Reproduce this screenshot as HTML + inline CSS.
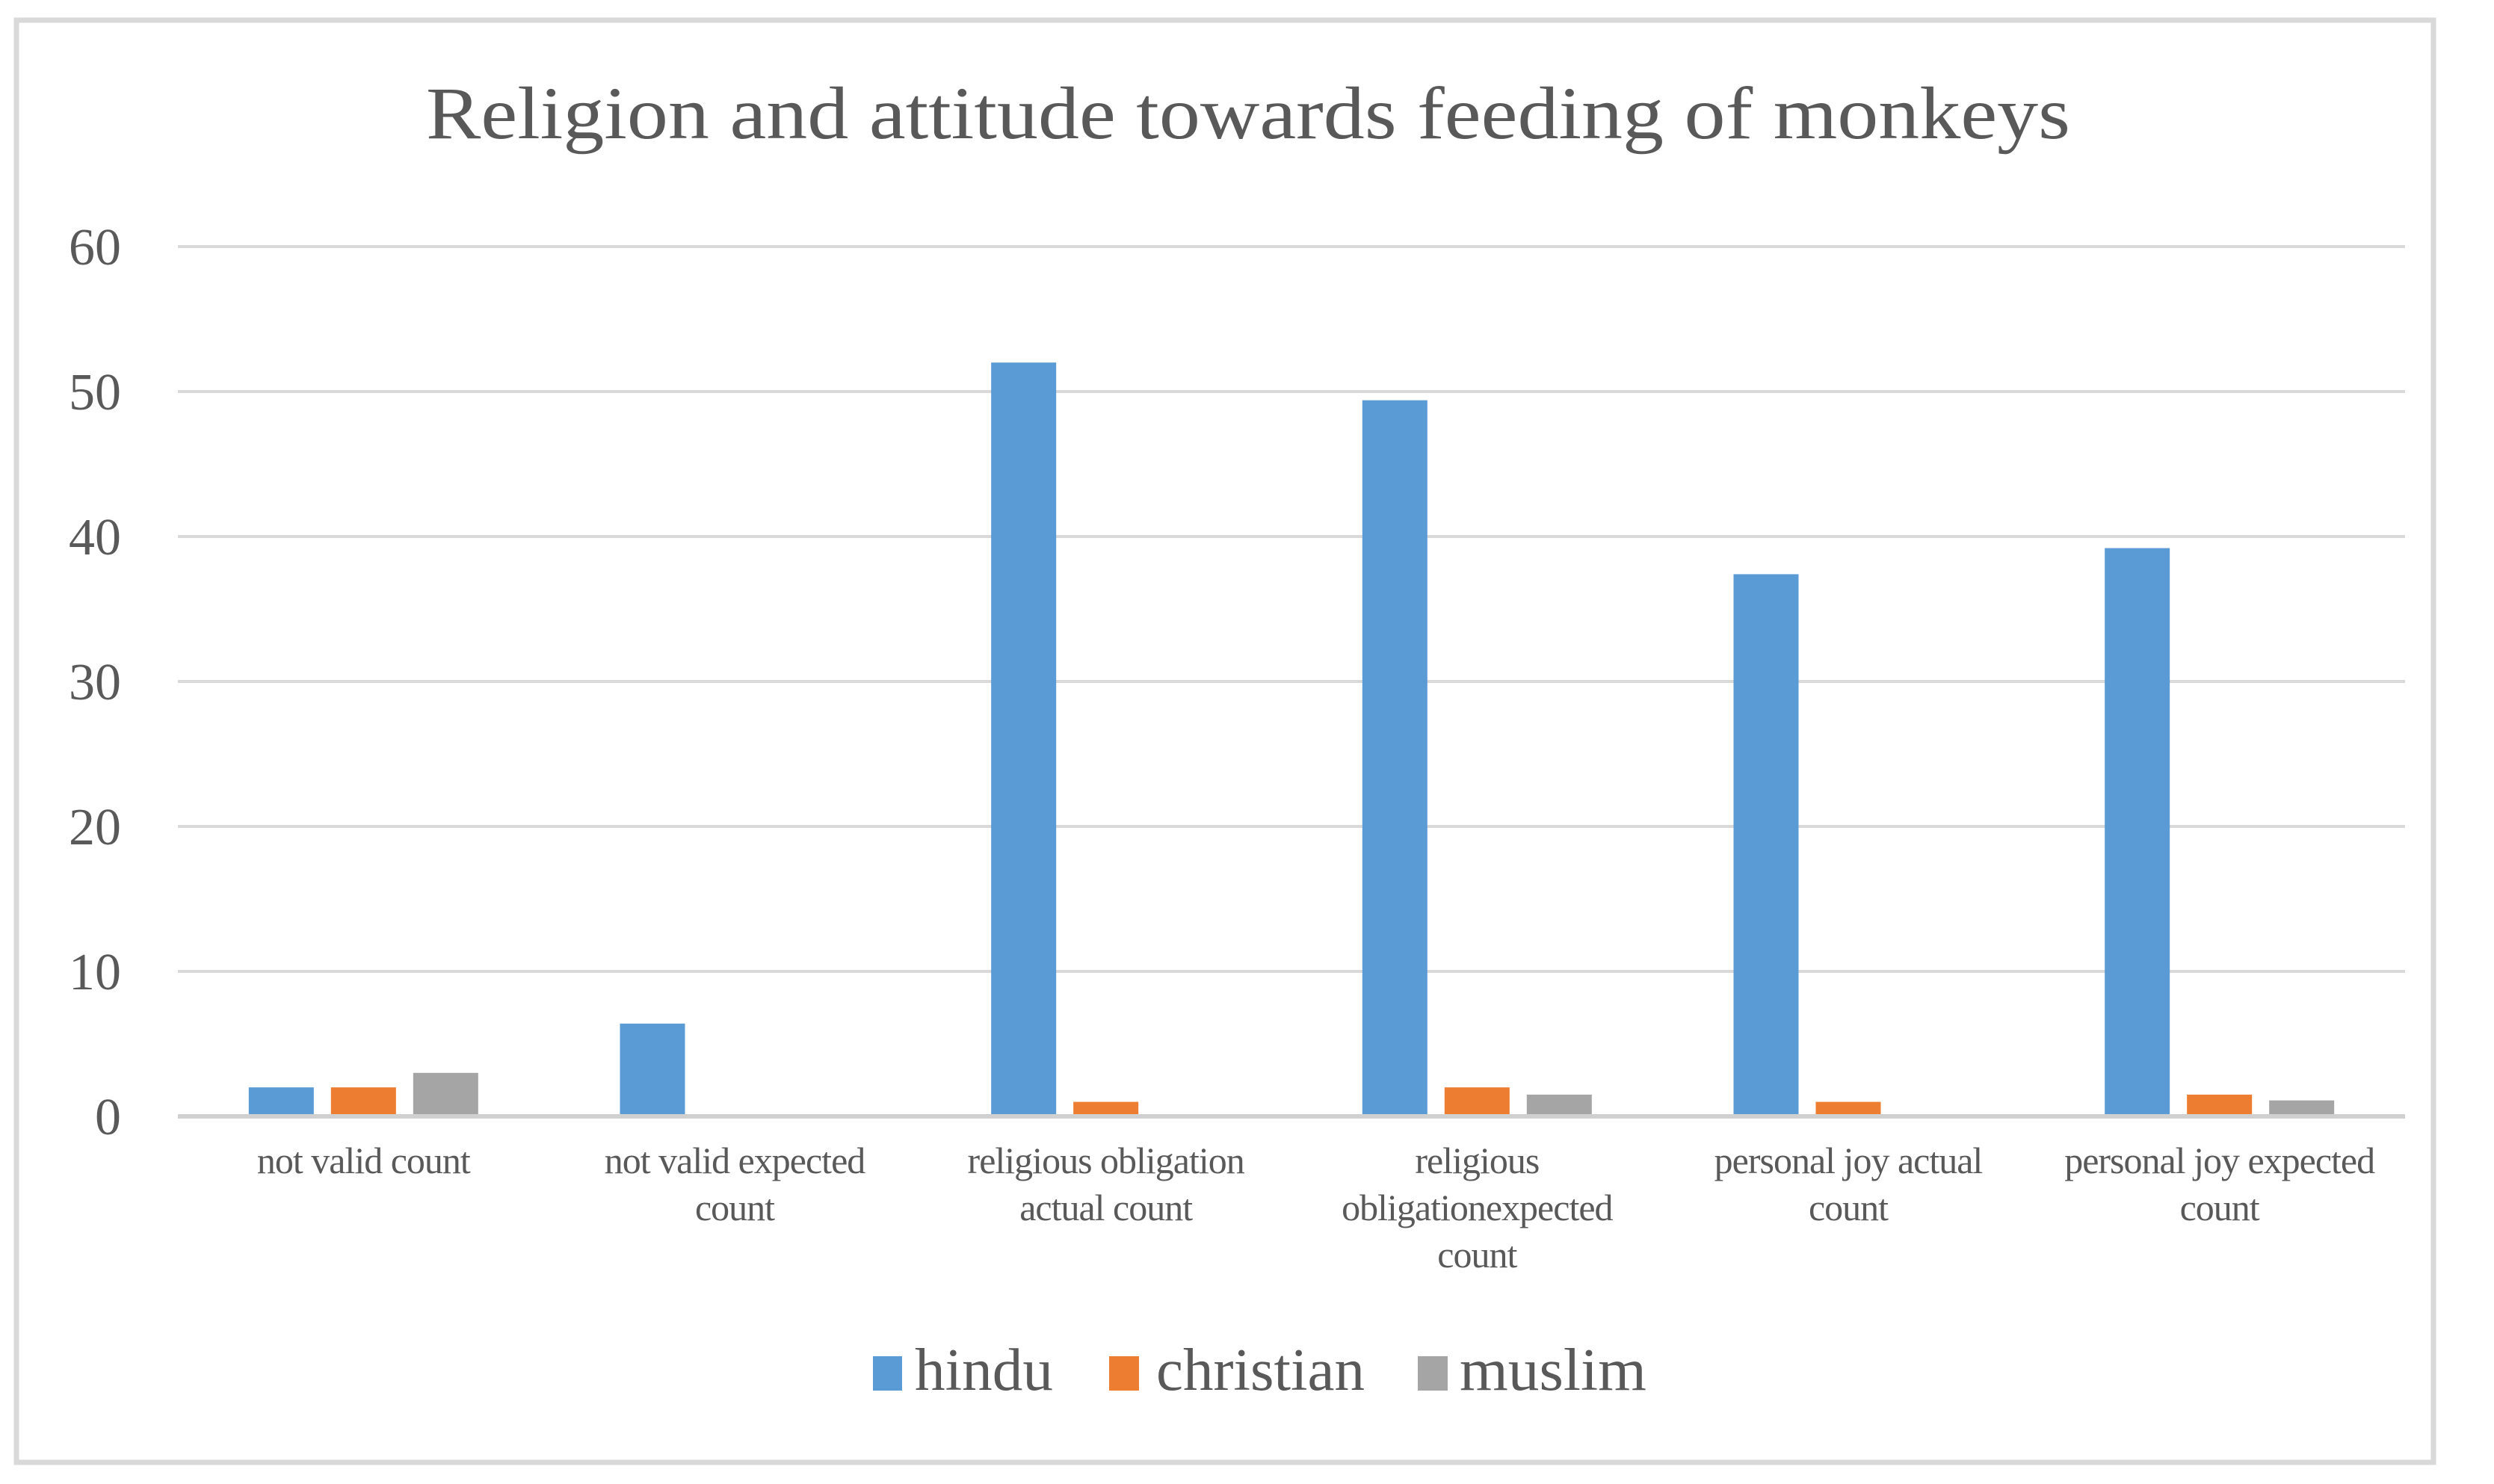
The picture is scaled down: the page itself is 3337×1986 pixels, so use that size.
<!DOCTYPE html>
<html><head><meta charset="utf-8"><style>
html,body{margin:0;padding:0;background:#fff;}
svg{display:block;font-family:"Liberation Serif",serif;}
</style></head><body>
<svg id="chart" width="3337" height="1986" viewBox="0 0 3337 1986" xmlns="http://www.w3.org/2000/svg">
<rect x="22" y="27" width="3234" height="1930" fill="#fff" stroke="#d9d9d9" stroke-width="7"/>
<text x="1670" y="185" text-anchor="middle" font-size="100" fill="#595959" textLength="2200" lengthAdjust="spacingAndGlyphs">Religion and attitude towards feeding of monkeys</text>
<g id="grid"></g><g id="bars"></g><g id="xlabels"></g>
<g>
<rect x="1168" y="1815" width="39" height="46" fill="#5b9bd5"/>
<text x="1224" y="1860" font-size="80" fill="#595959" textLength="185" lengthAdjust="spacingAndGlyphs">hindu</text>
<rect x="1484" y="1815" width="40" height="46" fill="#ed7d31"/>
<text x="1547" y="1860" font-size="80" fill="#595959" textLength="279" lengthAdjust="spacingAndGlyphs">christian</text>
<rect x="1897" y="1815" width="40" height="46" fill="#a5a5a5"/>
<text x="1953" y="1860" font-size="80" fill="#595959" textLength="250" lengthAdjust="spacingAndGlyphs">muslim</text>
</g>
</svg>
<script>
const categories = [["not valid count"],["not valid expected","count"],["religious obligation","actual count"],["religious","obligationexpected","count"],["personal joy actual","count"],["personal joy expected","count"]];
const hindu = [2, 6.4, 52, 49.4, 37.4, 39.2];
const christian = [2, 0, 1, 2, 1, 1.5];
const muslim = [3, 0, 0, 1.5, 0, 1.1];
const yTicks = [0, 10, 20, 30, 40, 50, 60];
const NS = "http://www.w3.org/2000/svg";
const L = 238, R = 3218, Y0 = 1494, Y60 = 330;
const y = v => Y0 - (v / 60) * (Y0 - Y60);
const band = (R - L) / categories.length;
const xc = i => L + band * (i + 0.5);
function mk(tag, attrs, parent) { const e = document.createElementNS(NS, tag); for (const k in attrs) e.setAttribute(k, attrs[k]); parent.appendChild(e); return e; }
const grid = document.getElementById('grid');
yTicks.forEach(t => {
  const ln = mk('line', {x1: L, x2: R, y1: y(t), y2: y(t), stroke: t === 0 ? '#d0d0d0' : '#d9d9d9', 'stroke-width': t === 0 ? 6 : 4}, grid);
  
  
  const tx = mk('text', {x: 162, y: y(t) + 24, 'text-anchor': 'end', 'font-size': 70, fill: '#595959'}, grid);
  tx.textContent = t;
  
  
});
const bars = document.getElementById('bars');
const series = [["hindu", hindu, "#5b9bd5"], ["christian", christian, "#ed7d31"], ["muslim", muslim, "#a5a5a5"]];
const bw = 87, gap = 110;
series.forEach((s, si) => {
  s[1].forEach((v, i) => {
    if (v <= 0) return;
    const cx = xc(i) + (si - 1) * gap;
    const r = mk('rect', {x: cx - bw / 2, y: y(v), width: bw, height: Y0 - y(v) - 3, fill: s[2]}, bars);
    
    
  });
});
const xl = document.getElementById('xlabels');
categories.forEach((lines, i) => {
  const t = mk('text', {x: xc(i), y: 1570, 'text-anchor': 'middle', 'font-size': 50, fill: '#595959', 'letter-spacing': '-1'}, xl);
  
  
  lines.forEach((ln, j) => { const ts = mk('tspan', {x: xc(i), dy: j === 0 ? 0 : 63}, t); ts.textContent = ln; });
});
</script>
</body></html>
